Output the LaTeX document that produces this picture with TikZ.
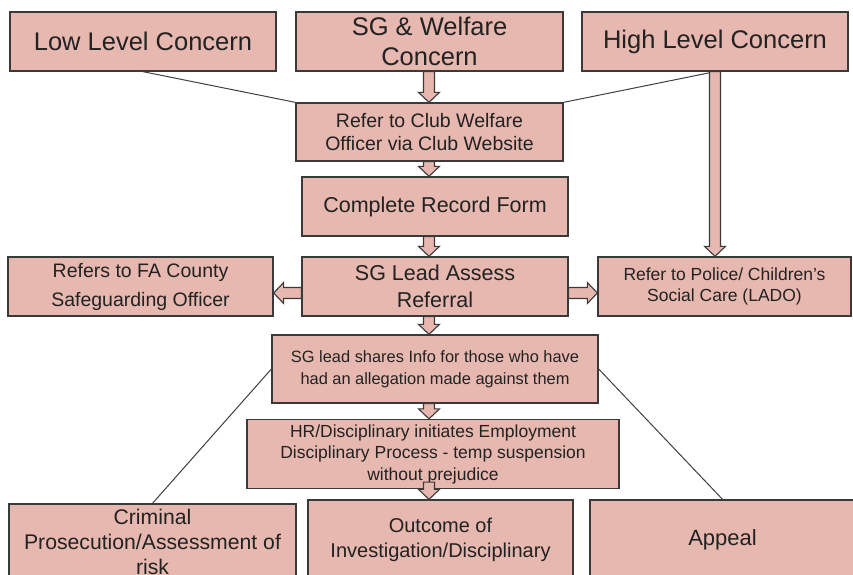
\documentclass[tikz,border=0pt]{standalone}
\usepackage{fontspec}
\setmainfont{Liberation Sans}
\usetikzlibrary{calc}
\definecolor{boxfill}{HTML}{E6B8AF}
\definecolor{boxline}{HTML}{3A3A3A}
\definecolor{txt}{HTML}{222222}
\definecolor{thinc}{HTML}{404040}
\tikzset{
  box/.style={draw=boxline, fill=boxfill, line width=1.3pt, text=txt, align=center, inner sep=0pt},
  blk/.style={draw=boxline, fill=boxfill, line width=1.1pt, line join=miter},
  thinline/.style={draw=thinc, line width=1pt},
}
\newcommand\fs[2]{\fontsize{#1}{#2}\selectfont}
\newcommand\vblk[2]{\draw[blk] let \p1=(#1), \p2=(#2) in
  (\x1-5.5pt,\y1) -- (\x1-5.5pt,\y2+10pt) -- (\x1-10.5pt,\y2+10pt) -- (\x1,\y2)
  -- (\x1+10.5pt,\y2+10pt) -- (\x1+5.5pt,\y2+10pt) -- (\x1+5.5pt,\y1) -- cycle;}
\newcommand\lblk[2]{\draw[blk] let \p1=(#1), \p2=(#2) in
  (\x1,\y1+5.5pt) -- (\x2+10pt,\y1+5.5pt) -- (\x2+10pt,\y1+10.5pt) -- (\x2,\y1)
  -- (\x2+10pt,\y1-10.5pt) -- (\x2+10pt,\y1-5.5pt) -- (\x1,\y1-5.5pt) -- cycle;}
\newcommand\rblk[2]{\draw[blk] let \p1=(#1), \p2=(#2) in
  (\x1,\y1+5.5pt) -- (\x2-10pt,\y1+5.5pt) -- (\x2-10pt,\y1+10.5pt) -- (\x2,\y1)
  -- (\x2-10pt,\y1-10.5pt) -- (\x2-10pt,\y1-5.5pt) -- (\x1,\y1-5.5pt) -- cycle;}
\begin{document}
\begin{tikzpicture}[x=1pt,y=-1pt]
\fill[white] (0,0) rectangle (853,574);
\useasboundingbox (0,0) rectangle (853,574);

% boxes
\node[box, minimum width=266pt, minimum height=59pt, font=\fs{25.5}{30}] (low) at (143,41.5) {Low Level Concern};
\node[box, minimum width=267pt, minimum height=59pt, font=\fs{25.5}{30}] (sgw) at (429.5,41.5) {SG \& Welfare\\Concern};
\node[box, minimum width=266pt, minimum height=59pt, font=\fs{25.5}{30}] (high) at (715,41.5) {High Level Concern};
\node[box, minimum width=267pt, minimum height=58pt, font=\fs{19.5}{22.5}] (ref) at (429.5,132) {Refer to Club Welfare\\Officer via Club Website};
\node[box, minimum width=266pt, minimum height=59pt, font=\fs{21.5}{26}] (rec) at (435,206.5) {Complete Record Form};
\node[box, minimum width=266pt, minimum height=59pt, font=\fs{21.5}{27}] (lead) at (435,286.5) {SG Lead Assess\\Referral};
\node[box, minimum width=265pt, minimum height=59pt, font=\fs{19.5}{29}] (fa) at (140.5,286.5) {Refers to FA County\\Safeguarding Officer};
\node[box, minimum width=253pt, minimum height=59pt, font=\fs{17.5}{21}] (pol) at (724.5,286.5) {Refer to Police/ Children's\\Social Care (LADO)};
\node[box, minimum width=326pt, minimum height=68pt, font=\fs{16.4}{22}] (share) at (435,369) {SG lead shares Info for those who have\\had an allegation made against them};
\node[box, minimum width=372pt, minimum height=69pt, font=\fs{17.5}{21.5}] (hr) at (433,454) {HR/Disciplinary initiates Employment\\Disciplinary Process - temp suspension\\without prejudice};
\node[box, minimum width=287pt, minimum height=76pt, font=\fs{21.2}{25}] (crim) at (152.5,542) {Criminal\\Prosecution/Assessment of\\risk};
\node[box, minimum width=265pt, minimum height=80pt, font=\fs{20}{24.5}] (out) at (440.5,540) {Outcome of\\Investigation/Disciplinary};
\node[box, minimum width=265pt, minimum height=80pt, font=\fs{22}{26}] (app) at (722.5,540) {Appeal};

% thin connectors
\draw[thinline] (low.south) -- (ref.north west);
\draw[thinline] (high.south) -- (ref.north east);
\draw[thinline] (share.west) -- (crim.north);
\draw[thinline] (share.east) -- (app.north);

% block arrows
\coordinate (axis) at (429,0);
\vblk{sgw.south -| axis}{ref.north -| axis}
\vblk{ref.south -| axis}{rec.north -| axis}
\vblk{rec.south -| axis}{lead.north -| axis}
\vblk{lead.south -| axis}{share.north -| axis}
\vblk{share.south -| axis}{hr.north -| axis}
\coordinate (hrs) at ($(hr.south -| axis)+(0,-7)$);
\vblk{hrs}{out.north -| axis}
\vblk{high.south}{pol.north -| high.south}
\coordinate (lw) at ($(lead.west)+(0,6.5)$);
\coordinate (le) at ($(lead.east)+(0,6.5)$);
\lblk{lw}{fa.east |- lw}
\rblk{le}{pol.west |- le}
\end{tikzpicture}
\end{document}
